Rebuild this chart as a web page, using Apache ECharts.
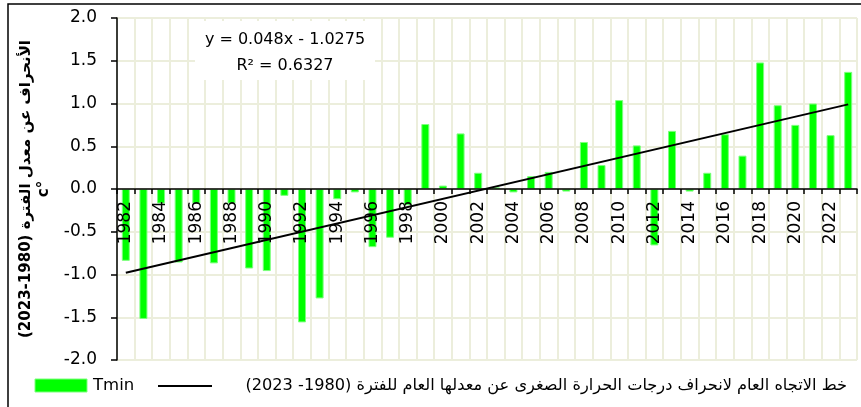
<!DOCTYPE html>
<html style="height: 100%">
<head>
    <meta charset="utf-8">
</head>
<body style="height: 100%; margin: 0; background: #fff">
<div id="container" style="width: 861px; height: 407px"></div>
<script type="text/javascript" src="https://cdn.jsdelivr.net/npm/echarts@6/dist/echarts.min.js"></script>
<script type="text/javascript">
    var years = ['1982', '1983', '1984', '1985', '1986', '1987', '1988', '1989', '1990', '1991',
        '1992', '1993', '1994', '1995', '1996', '1997', '1998', '1999', '2000', '2001',
        '2002', '2003', '2004', '2005', '2006', '2007', '2008', '2009', '2010', '2011',
        '2012', '2013', '2014', '2015', '2016', '2017', '2018', '2019', '2020', '2021',
        '2022', '2023'];
    // انحراف الحرارة الصغرى عن المعدل
    var tmin = [-0.84, -1.52, -0.17, -0.86, -0.17, -0.87, -0.17, -0.93, -0.96, -0.08,
        -1.56, -1.28, -0.12, -0.04, -0.68, -0.57, -0.19, 0.76, 0.04, 0.65,
        0.19, 0.02, -0.04, 0.15, 0.20, -0.03, 0.55, 0.28, 1.04, 0.51,
        -0.66, 0.68, -0.03, 0.19, 0.64, 0.39, 1.48, 0.98, 0.75, 1.00,
        0.63, 1.37];
    // خط الاتجاه: نقطتا البداية والنهاية كما في الشكل
    var trendYears = ['1982', '2023'];
    var trendValues = [-0.98, 0.99];

    var equationText = 'y = 0.048x - 1.0275';
    var r2Text = 'R² = 0.6327';
    var barName = 'Tmin';
    var trendName = '\u202Bخط الاتجاه العام لانحراف درجات الحرارة الصغرى عن معدلها العام للفترة (1980- 2023)\u202C';
    var yTitle = '\u202Bالأنحراف عن معدل الفترة (1980-2023)\u202C\nc°';

    var font = 'DejaVu Sans';
    var gridColor = '#ECEEDC';
    var barColor = '#00FF00';

    var dom = document.getElementById("container");
    var myChart = echarts.init(dom, null, {renderer: 'canvas'});
    var option;

    option = {
        animation: false,
        backgroundColor: '#fff',
        grid: {
            left: 117,
            right: 4,
            top: 18,
            bottom: 47
        },
        legend: {show: false},
        xAxis: [
            {
                // grid lines only
                type: 'category',
                data: years,
                axisLine: {show: false},
                axisTick: {show: false},
                axisLabel: {show: false},
                splitLine: {show: true, interval: 0, lineStyle: {color: gridColor, width: 2}}
            },
            {
                // axis line on zero, drawn above the bars
                type: 'category',
                data: years,
                position: 'bottom',
                offset: -171,
                z: 5,
                axisLine: {onZero: false, lineStyle: {color: '#000', width: 1.5}},
                axisTick: {show: true, interval: 0, length: 5, lineStyle: {color: '#000', width: 1.5}},
                axisLabel: {
                    interval: 1,
                    rotate: 90,
                    margin: 12,
                    color: '#000',
                    fontFamily: font,
                    fontSize: 17
                },
                splitLine: {show: false}
            }
        ],
        yAxis: {
            type: 'value',
            min: -2,
            max: 2,
            interval: 0.5,
            name: yTitle,
            nameLocation: 'middle',
            nameRotate: 90,
            nameGap: 60,
            nameTextStyle: {
                color: '#000',
                fontFamily: font,
                fontWeight: 'bold',
                fontSize: 15,
                lineHeight: 18
            },
            axisLine: {show: true, lineStyle: {color: '#000', width: 1.5}},
            axisTick: {show: true, length: 6, lineStyle: {color: '#000', width: 1.5}},
            axisLabel: {
                margin: 20,
                color: '#000',
                fontFamily: font,
                fontSize: 17,
                formatter: function (v) { return v.toFixed(1); }
            },
            splitLine: {show: true, lineStyle: {color: gridColor, width: 2}}
        },
        graphic: [
            {
                type: 'rect',
                x: 8,
                y: 4,
                shape: {width: 870, height: 420},
                style: {fill: 'none', stroke: '#000', lineWidth: 1.5},
                silent: true
            },
            {
                type: 'rect',
                x: 195,
                y: 21,
                z: 10,
                shape: {width: 180, height: 59},
                style: {fill: '#fff'}
            },
            {
                type: 'text',
                x: 285,
                y: 27,
                z: 11,
                style: {
                    text: equationText + '\n' + r2Text,
                    font: '16px "DejaVu Sans"',
                    fill: '#000',
                    align: 'center',
                    lineHeight: 26
                }
            },
            // legend, drawn by hand so its place is fixed
            {
                type: 'rect',
                x: 35,
                y: 379,
                shape: {width: 52, height: 13},
                style: {fill: barColor, stroke: '#7CFF7C', lineWidth: 1}
            },
            {
                type: 'text',
                x: 93,
                y: 386,
                style: {text: barName, font: '16.5px "DejaVu Sans"', fill: '#000', verticalAlign: 'middle'}
            },
            {
                type: 'line',
                shape: {x1: 158, y1: 386, x2: 212, y2: 386},
                style: {stroke: '#000', lineWidth: 2}
            },
            {
                type: 'text',
                x: 847,
                y: 386,
                style: {text: trendName, font: '16.2px "DejaVu Sans"', fill: '#000', align: 'right', verticalAlign: 'middle'}
            }
        ],
        series: [
            {
                name: barName,
                type: 'bar',
                xAxisIndex: 0,
                data: tmin,
                barWidth: 8,
                itemStyle: {color: barColor, borderColor: '#7CFF7C', borderWidth: 1}
            },
            {
                name: trendName,
                type: 'line',
                xAxisIndex: 0,
                data: [[trendYears[0], trendValues[0]], [trendYears[1], trendValues[1]]],
                symbol: 'none',
                z: 4,
                itemStyle: {color: '#000'},
                lineStyle: {color: '#000', width: 2}
            }
        ]
    };

    if (option && typeof option === "object") {
        myChart.setOption(option, true);
    }
</script>
</body>
</html>
